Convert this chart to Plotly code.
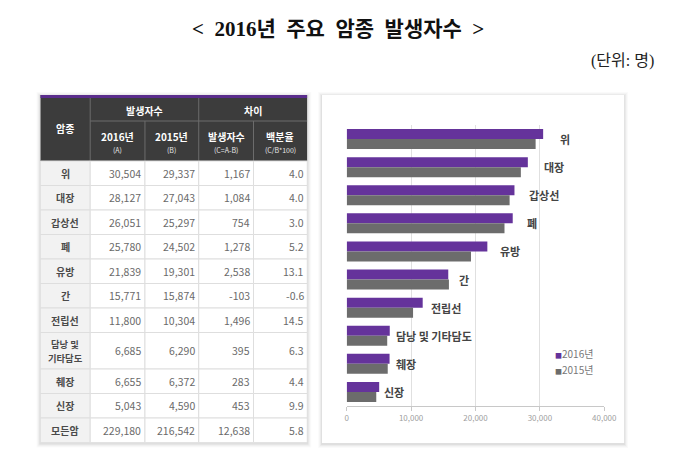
import plotly.graph_objects as go

# ---------------- data ----------------
cancers = ["위", "대장", "갑상선", "폐", "유방", "간", "전립선", "담낭 및 기타담도", "췌장", "신장"]
table_names = ["위", "대장", "갑상선", "폐", "유방", "간", "전립선", "담낭 및|기타담도", "췌장", "신장", "모든암"]
cases_2016 = [30504, 28127, 26051, 25780, 21839, 15771, 11800, 6685, 6655, 5043]
cases_2015 = [29337, 27043, 25297, 24502, 19301, 15874, 10304, 6290, 6372, 4590]
diff_cases = [1167, 1084, 754, 1278, 2538, -103, 1496, 395, 283, 453]
diff_pct = [4.0, 4.0, 3.0, 5.2, 13.1, -0.6, 14.5, 6.3, 4.4, 9.9]
total_2016 = 229180
total_2015 = 216542
total_diff = 12638
total_pct = 5.8

x_ticks = [0, 10000, 20000, 30000, 40000]
series_names = ["2016년", "2015년"]
head_first = "암종"
head_groups = ["발생자수", "차이"]
head_sub = ["2016년", "2015년", "발생자수", "백분율"]
head_note = ["(A)", "(B)", "(C=A-B)", "(C/B*100)"]
title_words = ["<", "2016년", "주요", "암종", "발생자수", ">"]
unit_text = "(단위: 명)"

# ---------------- style ----------------
W, H = 680, 454
FONT = "Noto Sans CJK KR, Noto Sans, sans-serif"
SERIF = "Liberation Serif, DejaVu Serif, Noto Sans CJK KR, serif"
PURPLE = "#65339b"
GRAY = "#6c6c6c"
SERIES_COLORS = [PURPLE, GRAY]


def px(x):
    return x / W


def py(y):
    return 1 - y / H


fig = go.Figure()

# ---------------- bar chart ----------------
fig.add_trace(go.Bar(y=cancers, x=cases_2016, name=series_names[0], orientation="h",
                     marker=dict(color=PURPLE, line=dict(width=0)), xaxis="x", yaxis="y",
                     showlegend=False))
fig.add_trace(go.Bar(y=cancers, x=cases_2015, name=series_names[1], orientation="h",
                     marker=dict(color=GRAY, line=dict(width=0)), xaxis="x", yaxis="y",
                     showlegend=False))

annotations = []
for name, a, b in zip(cancers, cases_2016, cases_2015):
    annotations.append(dict(x=max(a, b) * 1.07, y=name, xref="x", yref="y", text=name,
                            showarrow=False, xanchor="left", yanchor="middle", xshift=1,
                            font=dict(family=FONT, size=11, color="#444444", weight=600)))

# legend (small square markers, as in the reference)
for i, (s, col) in enumerate(zip(series_names, SERIES_COLORS)):
    annotations.append(dict(x=px(555), y=py(345 + 16.7 * i), xref="paper", yref="paper",
                            text=f"<span style='color:{col};font-size:7px'>■</span>{s}",
                            showarrow=False, xanchor="left", yanchor="middle",
                            font=dict(family=FONT, size=10, color="#777777")))

# ---------------- table ----------------
col_w = [51, 56, 55, 56, 55]
h1, h2 = 26, 40
row_h = [24.5 if "|" not in n else 36.5 for n in table_names]
cx = [0]
for w in col_w:
    cx.append(cx[-1] + w)
ry = [h1 + h2]
for h in row_h:
    ry.append(ry[-1] + h)
TW, TH = cx[-1], ry[-1]
table_top = 87

shapes = []


def add_shadow(x0, y0, x1, y1):
    for k, a in [(4, 0.018), (3, 0.025), (2, 0.035), (1, 0.05)]:
        shapes.append(dict(type="rect", xref="paper", yref="paper", layer="below",
                           x0=px(x0 - k), x1=px(x1 + k), y0=py(y1 + k + 1), y1=py(y0 - k + 1),
                           fillcolor=f"rgba(0,0,0,{a})", line=dict(width=0)))


add_shadow(31, table_top, 31 + TW, table_top + TH)
add_shadow(319, 87, 628, 435)
shapes.append(dict(type="rect", xref="paper", yref="paper", layer="below",
                   x0=px(319), x1=px(628), y0=py(435), y1=py(87),
                   fillcolor="white", line=dict(width=0)))

# header
shapes.append(dict(type="rect", xref="x2", yref="y2", x0=0, x1=TW, y0=0, y1=h1 + h2,
                   fillcolor="#3c3c3c", line=dict(width=0)))
shapes.append(dict(type="rect", xref="x2", yref="y2", x0=0, x1=TW, y0=0, y1=3,
                   fillcolor="#5a2d8c", line=dict(width=0)))
hl = dict(color="#6c6c6c", width=1)
for c in (1, 3):
    shapes.append(dict(type="line", xref="x2", yref="y2", x0=cx[c], x1=cx[c], y0=3, y1=h1 + h2, line=hl))
for c in (2, 4):
    shapes.append(dict(type="line", xref="x2", yref="y2", x0=cx[c], x1=cx[c], y0=h1, y1=h1 + h2, line=hl))
shapes.append(dict(type="line", xref="x2", yref="y2", x0=cx[1], x1=TW, y0=h1, y1=h1, line=hl))

# body
for r in range(len(table_names)):
    for c in range(5):
        shapes.append(dict(type="rect", xref="x2", yref="y2", x0=cx[c], x1=cx[c + 1],
                           y0=ry[r], y1=ry[r + 1],
                           fillcolor="#f2f2f2" if c == 0 else "white",
                           line=dict(color="#dedede", width=1)))

HF = dict(family=FONT, size=10, color="white", weight="bold")
annotations.append(dict(x=col_w[0] / 2, y=(h1 + h2) / 2, xref="x2", yref="y2", text=head_first,
                        showarrow=False, font=HF))
for g, txt in enumerate(head_groups):
    c0 = 1 + 2 * g
    annotations.append(dict(x=(cx[c0] + cx[c0 + 2]) / 2, y=15, xref="x2", yref="y2", text=txt,
                            showarrow=False, font=HF))
for i, (s, n) in enumerate(zip(head_sub, head_note)):
    xc = (cx[i + 1] + cx[i + 2]) / 2
    annotations.append(dict(x=xc, y=41.5, xref="x2", yref="y2", text=s, showarrow=False, font=HF))
    annotations.append(dict(x=xc, y=55, xref="x2", yref="y2", text=n, showarrow=False,
                            font=dict(family=FONT, size=7, color="#e6e6e6")))

rows = [[a, b, d, p] for a, b, d, p in zip(cases_2016, cases_2015, diff_cases, diff_pct)]
rows.append([total_2016, total_2015, total_diff, total_pct])
for r, (name, vals) in enumerate(zip(table_names, rows)):
    yc = (ry[r] + ry[r + 1]) / 2
    parts = name.split("|")
    fs = 10 if len(parts) == 1 else 9.3
    for k, part in enumerate(parts):
        annotations.append(dict(x=col_w[0] / 2, y=yc + (k - (len(parts) - 1) / 2) * 13.6,
                                xref="x2", yref="y2", text=part, showarrow=False,
                                yanchor="middle",
                                font=dict(family=FONT, size=fs, color="#4a4a4a", weight="bold")))
    texts = [f"{vals[0]:,}", f"{vals[1]:,}", f"{vals[2]:,}", f"{vals[3]:.1f}"]
    for c, t in enumerate(texts):
        annotations.append(dict(x=cx[c + 2] - 1.5, y=yc, xref="x2", yref="y2", text=t, showarrow=False,
                                xanchor="right", yanchor="middle",
                                font=dict(family=FONT, size=10.5, color="#6a6a6a")))

# titles
title_text = "\u00a0 ".join(title_words)
annotations.append(dict(x=px(335), y=py(21), xref="paper", yref="paper", text=f"<b>{title_text}</b>",
                        showarrow=False, xanchor="center", yanchor="middle",
                        font=dict(family=SERIF, size=21, color="#111111")))
annotations.append(dict(x=px(661), y=py(53), xref="paper", yref="paper", text=unit_text,
                        showarrow=False, xanchor="right", yanchor="middle",
                        font=dict(family=SERIF, size=16, color="#222222")))

fig.update_layout(
    width=W, height=H,
    margin=dict(l=0, r=0, t=0, b=0),
    paper_bgcolor="white", plot_bgcolor="rgba(0,0,0,0)",
    barmode="group", bargap=0.29, bargroupgap=0,
    font=dict(family=FONT),
    xaxis=dict(domain=[px(344.3), px(607.7)], range=[0, 40000], tickvals=x_ticks, tickformat=",",
               showgrid=True, gridcolor="#e0e0e0", gridwidth=1, zeroline=False,
               showline=True, linecolor="#c8c8c8", ticks="outside", ticklen=4, tickcolor="#c8c8c8",
               tickfont=dict(family=FONT, size=8, color="#a0a0a0"), anchor="y", fixedrange=True),
    yaxis=dict(domain=[py(398), py(117)], categoryorder="array", categoryarray=cancers,
               autorange="reversed", showticklabels=False, showgrid=False, zeroline=False,
               showline=False, ticks="", anchor="x", fixedrange=True),
    xaxis2=dict(domain=[px(31), px(31 + TW)], range=[0, TW], visible=False, anchor="y2", fixedrange=True),
    yaxis2=dict(domain=[py(table_top + TH), py(table_top)], range=[TH, 0], visible=False, anchor="x2",
                fixedrange=True),
    shapes=shapes,
    annotations=annotations,
    showlegend=False,
)

fig.write_html("out.html")
